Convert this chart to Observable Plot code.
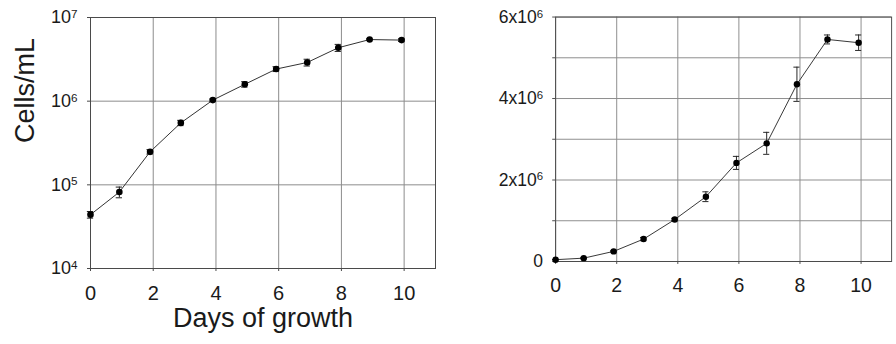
<!DOCTYPE html>
<html>
<head>
<meta charset="utf-8">
<script src="https://cdn.jsdelivr.net/npm/d3@7"></script>
<script src="https://cdn.jsdelivr.net/npm/@observablehq/plot@0.6"></script>
<style>
  html, body { margin: 0; padding: 0; background: #fff; }
  #wrap { position: relative; width: 896px; height: 344px; overflow: hidden; }
  #left { position: absolute; left: 0; top: 0; width: 448px; height: 344px; overflow: hidden; }
  #right { position: absolute; left: 448px; top: 0; width: 448px; height: 344px; overflow: hidden; }
</style>
</head>
<body>
<div id="wrap"><div id="left"></div><div id="right"></div></div>
<script>
// Data
const days  = [0, 0.92, 1.9, 2.88, 3.9, 4.92, 5.92, 6.91, 7.9, 8.9, 9.92];
const cells = [4.4e4, 8.2e4, 2.48e5, 5.5e5, 1.03e6, 1.59e6, 2.42e6, 2.9e6, 4.35e6, 5.45e6, 5.37e6];
const errs  = [4e3, 1.2e4, 1.5e4, 4e4, 3e4, 1.2e5, 1.6e5, 2.7e5, 4.2e5, 1.1e5, 1.9e5];

const xTicks = [0, 2, 4, 6, 8, 10];
const logTicks = [1e4, 1e5, 1e6, 1e7];
const logTickLabels = ["10^4", "10^5", "10^6", "10^7"];
const linTicks = [0, 1e6, 2e6, 3e6, 4e6, 5e6, 6e6];
const linTickLabels = ["0", "", "2x10^6", "", "4x10^6", "", "6x10^6"];
const yTitle = "Cells/mL";
const xTitle = "Days of growth";

const data = days.map((d, i) => ({day: d, cells: cells[i], err: errs[i]}));

const font = "'Liberation Sans', Arial, sans-serif";
const gridColor = "#8c8c8c";
const frameColor = "#4a4a4a";
const ink = "#1a1a1a";

function seriesMarks() {
  return [
    Plot.ruleX(data, {x: "day", y1: d => d.cells - d.err, y2: d => d.cells + d.err, stroke: "#222", strokeWidth: 1}),
    Plot.ruleY(data, {y: d => d.cells + d.err, x1: d => d.day - 0.1, x2: d => d.day + 0.1, stroke: "#222", strokeWidth: 1}),
    Plot.ruleY(data, {y: d => d.cells - d.err, x1: d => d.day - 0.1, x2: d => d.day + 0.1, stroke: "#222", strokeWidth: 1}),
    Plot.line(data, {x: "day", y: "cells", stroke: "#333", strokeWidth: 1}),
    Plot.dot(data, {x: "day", y: "cells", r: 3.3, fill: "#000", stroke: "none"})
  ];
}

function finish(svg) {
  d3.select(svg).selectAll("text").each(function() {
    const t = this.textContent;
    if (t.includes("^")) {
      const [base, sup] = t.split("^");
      const sel = d3.select(this);
      sel.text(null);
      sel.append("tspan").text(base);
      sel.append("tspan").attr("dy", "-0.45em").attr("font-size", "0.65em").text(sup);
    }
  });
  return svg;
}

const xAxis = () => Plot.axisX({ticks: xTicks, tickSize: 3, tickPadding: 14, label: null,
  tickFormat: d => String(d), stroke: frameColor, fontSize: 20, fontFamily: font, fill: ink});

const left = Plot.plot({
  width: 448, height: 344,
  marginLeft: 90, marginRight: 13, marginTop: 17, marginBottom: 76,
  style: {fontFamily: font, fontSize: "18px", color: ink, background: "transparent", overflow: "visible"},
  x: {domain: [0, 11]},
  y: {type: "log", domain: [1e4, 1e7]},
  marks: [
    Plot.gridX({ticks: xTicks, stroke: gridColor, strokeOpacity: 1}),
    Plot.gridY({ticks: logTicks, stroke: gridColor, strokeOpacity: 1}),
    Plot.frame({stroke: frameColor}),
    xAxis(),
    Plot.axisY({ticks: logTicks, tickSize: 3, tickPadding: 10, label: null,
      tickFormat: d => logTickLabels[logTicks.indexOf(d)], stroke: frameColor, fontSize: 18, fontFamily: font, fill: ink}),
    ...seriesMarks(),
    Plot.text([yTitle], {text: d => d, frameAnchor: "left", dx: -65, rotate: -90, fontSize: 27, fontFamily: font, fill: ink}),
    Plot.text([xTitle], {text: d => d, frameAnchor: "bottom", dy: 58, fontSize: 27, fontFamily: font, fill: ink})
  ]
});
document.getElementById("left").appendChild(finish(left));

const right = Plot.plot({
  width: 460, height: 344,
  marginLeft: 110, marginRight: 5, marginTop: 17, marginBottom: 76,
  style: {fontFamily: font, fontSize: "18px", color: ink, background: "transparent", overflow: "visible"},
  x: {domain: [0, 11]},
  y: {domain: [0, 6e6]},
  marks: [
    Plot.gridX({ticks: xTicks, stroke: gridColor, strokeOpacity: 1}),
    Plot.gridY({ticks: linTicks, stroke: gridColor, strokeOpacity: 1}),
    Plot.frame({stroke: frameColor}),
    xAxis(),
    Plot.axisY({ticks: linTicks, tickSize: 3, tickPadding: 10, label: null,
      tickFormat: d => linTickLabels[linTicks.indexOf(d)], stroke: frameColor, fontSize: 18, fontFamily: font, fill: ink}),
    ...seriesMarks()
  ]
});
document.getElementById("right").appendChild(finish(right));
</script>
</body>
</html>
